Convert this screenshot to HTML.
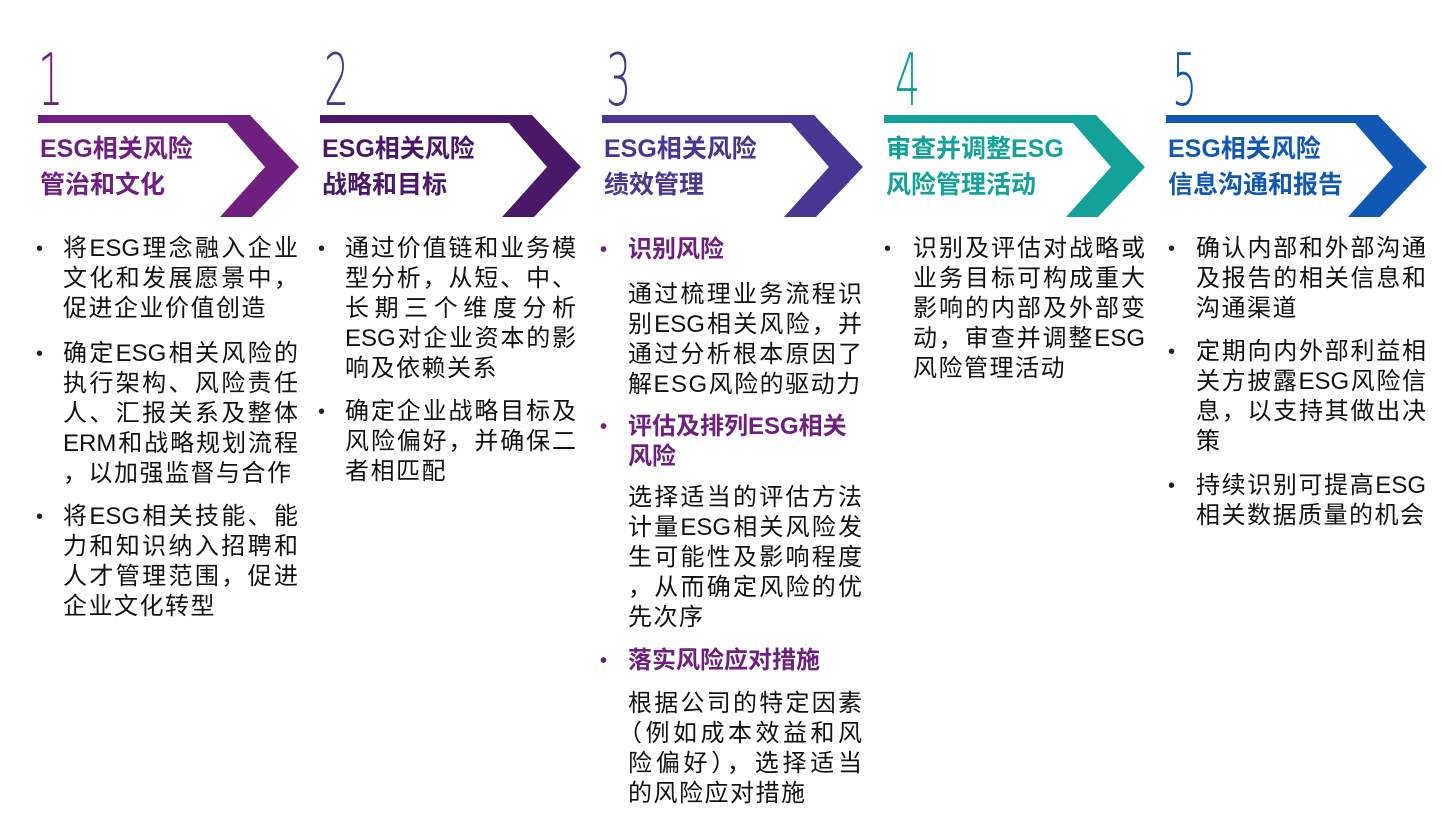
<!DOCTYPE html>
<html><head><meta charset="utf-8"><style>
body{margin:0;width:1442px;height:823px;background:#fff;position:relative;overflow:hidden;font-family:"Liberation Sans","Noto Sans CJK SC",sans-serif;}
.n{position:absolute;top:40px;font-family:"DejaVu Sans","Liberation Sans",sans-serif;font-weight:200;font-size:72px;line-height:80px;transform:scaleX(0.55);transform-origin:left top;}
.h{position:absolute;font-weight:bold;font-size:25px;line-height:36px;top:131px;}
.l{position:absolute;font-size:24px;line-height:30px;height:30px;color:#111;white-space:nowrap;letter-spacing:1.5px;}
.j{text-align:justify;text-align-last:justify;letter-spacing:0;}
.b{position:absolute;font-size:20px;line-height:30px;color:#222;}
.p{color:#6e1f7f;font-weight:bold;letter-spacing:0;}
</style></head><body>
<svg width="1442" height="823" style="position:absolute;left:0;top:0">
<polygon points="38,115 250,115 299,167 252,217 220,217 265,167 227,123 38,123" fill="#6e1f7f"/>
<polygon transform="translate(282,0)" points="38,115 250,115 299,167 252,217 220,217 265,167 227,123 38,123" fill="#4b1768"/>
<polygon transform="translate(564,0)" points="38,115 250,115 299,167 252,217 220,217 265,167 227,123 38,123" fill="#4a3592"/>
<polygon transform="translate(846,0)" points="38,115 250,115 299,167 252,217 220,217 265,167 227,123 38,123" fill="#12a29a"/>
<polygon transform="translate(1128,0)" points="38,115 250,115 299,167 252,217 220,217 265,167 227,123 38,123" fill="#1157b4"/>
</svg>
<div class="n" style="left:38px;color:#6e1f7f">1</div>
<div class="n" style="left:324px;color:#4a3592">2</div>
<div class="n" style="left:606px;color:#4a3592">3</div>
<div class="n" style="left:895px;color:#12a29a">4</div>
<div class="n" style="left:1172px;color:#1157b4">5</div>

<div class="h" style="left:40px;color:#6e1f7f">ESG相关风险<br>管治和文化</div>
<div class="h" style="left:322px;color:#4b1768">ESG相关风险<br>战略和目标</div>
<div class="h" style="left:604px;color:#4a3592">ESG相关风险<br>绩效管理</div>
<div class="h" style="left:886px;color:#12a29a">审查并调整ESG<br>风险管理活动</div>
<div class="h" style="left:1168px;color:#1157b4">ESG相关风险<br>信息沟通和报告</div>

<!-- col1 -->
<div class="b" style="left:36px;top:234px">•</div>
<div class="l j" style="left:63px;width:235px;top:234px">将ESG理念融入企业</div>
<div class="l j" style="left:63px;width:235px;top:264px">文化和发展愿景中，</div>
<div class="l" style="left:63px;top:294px">促进企业价值创造</div>
<div class="b" style="left:36px;top:339px">•</div>
<div class="l j" style="left:63px;width:235px;top:339px">确定ESG相关风险的</div>
<div class="l j" style="left:63px;width:235px;top:369px">执行架构、风险责任</div>
<div class="l j" style="left:63px;width:235px;top:399px">人、汇报关系及整体</div>
<div class="l j" style="left:63px;width:235px;top:429px">ERM和战略规划流程</div>
<div class="l" style="left:63px;top:459px">，以加强监督与合作</div>
<div class="b" style="left:36px;top:502px">•</div>
<div class="l j" style="left:63px;width:235px;top:502px">将ESG相关技能、能</div>
<div class="l j" style="left:63px;width:235px;top:532px">力和知识纳入招聘和</div>
<div class="l j" style="left:63px;width:235px;top:562px">人才管理范围，促进</div>
<div class="l" style="left:63px;top:592px">企业文化转型</div>

<!-- col2 -->
<div class="b" style="left:318px;top:234px">•</div>
<div class="l j" style="left:345px;width:231px;top:234px">通过价值链和业务模</div>
<div class="l j" style="left:345px;width:231px;top:264px">型分析，从短、中、</div>
<div class="l j" style="left:345px;width:231px;top:294px">长期三个维度分析</div>
<div class="l j" style="left:345px;width:231px;top:324px">ESG对企业资本的影</div>
<div class="l" style="left:345px;top:354px">响及依赖关系</div>
<div class="b" style="left:318px;top:397px">•</div>
<div class="l j" style="left:345px;width:231px;top:397px">确定企业战略目标及</div>
<div class="l j" style="left:345px;width:231px;top:427px">风险偏好，并确保二</div>
<div class="l" style="left:345px;top:457px">者相匹配</div>

<!-- col3 -->
<div class="b p" style="left:600px;top:235px">•</div>
<div class="l p" style="left:628px;top:235px">识别风险</div>
<div class="l j" style="left:628px;width:234px;top:280px">通过梳理业务流程识</div>
<div class="l j" style="left:628px;width:234px;top:310px">别ESG相关风险，并</div>
<div class="l j" style="left:628px;width:234px;top:340px">通过分析根本原因了</div>
<div class="l" style="left:628px;top:370px">解ESG风险的驱动力</div>
<div class="b p" style="left:600px;top:412px">•</div>
<div class="l p" style="left:628px;top:412px">评估及排列ESG相关</div>
<div class="l p" style="left:628px;top:442px">风险</div>
<div class="l j" style="left:628px;width:234px;top:483px">选择适当的评估方法</div>
<div class="l j" style="left:628px;width:234px;top:513px">计量ESG相关风险发</div>
<div class="l j" style="left:628px;width:234px;top:543px">生可能性及影响程度</div>
<div class="l j" style="left:628px;width:234px;top:573px">，从而确定风险的优</div>
<div class="l" style="left:628px;top:603px">先次序</div>
<div class="b p" style="left:600px;top:646px">•</div>
<div class="l p" style="left:628px;top:646px">落实风险应对措施</div>
<div class="l j" style="left:628px;width:234px;top:689px">根据公司的特定因素</div>
<div class="l j" style="left:618px;width:244px;top:719px">（例如成本效益和风</div>
<div class="l j" style="left:628px;width:234px;top:749px">险偏好），选择适当</div>
<div class="l" style="left:628px;top:779px">的风险应对措施</div>

<!-- col4 -->
<div class="b" style="left:884px;top:234px">•</div>
<div class="l j" style="left:913px;width:232px;top:234px">识别及评估对战略或</div>
<div class="l j" style="left:913px;width:232px;top:264px">业务目标可构成重大</div>
<div class="l j" style="left:913px;width:232px;top:294px">影响的内部及外部变</div>
<div class="l j" style="left:913px;width:232px;top:324px">动，审查并调整ESG</div>
<div class="l" style="left:913px;top:354px">风险管理活动</div>

<!-- col5 -->
<div class="b" style="left:1168px;top:234px">•</div>
<div class="l j" style="left:1196px;width:230px;top:234px">确认内部和外部沟通</div>
<div class="l j" style="left:1196px;width:230px;top:264px">及报告的相关信息和</div>
<div class="l" style="left:1196px;top:294px">沟通渠道</div>
<div class="b" style="left:1168px;top:337px">•</div>
<div class="l j" style="left:1196px;width:230px;top:337px">定期向内外部利益相</div>
<div class="l j" style="left:1196px;width:230px;top:367px">关方披露ESG风险信</div>
<div class="l j" style="left:1196px;width:230px;top:397px">息，以支持其做出决</div>
<div class="l" style="left:1196px;top:427px">策</div>
<div class="b" style="left:1168px;top:471px">•</div>
<div class="l j" style="left:1196px;width:230px;top:471px">持续识别可提高ESG</div>
<div class="l" style="left:1196px;top:501px">相关数据质量的机会</div>
</body></html>
